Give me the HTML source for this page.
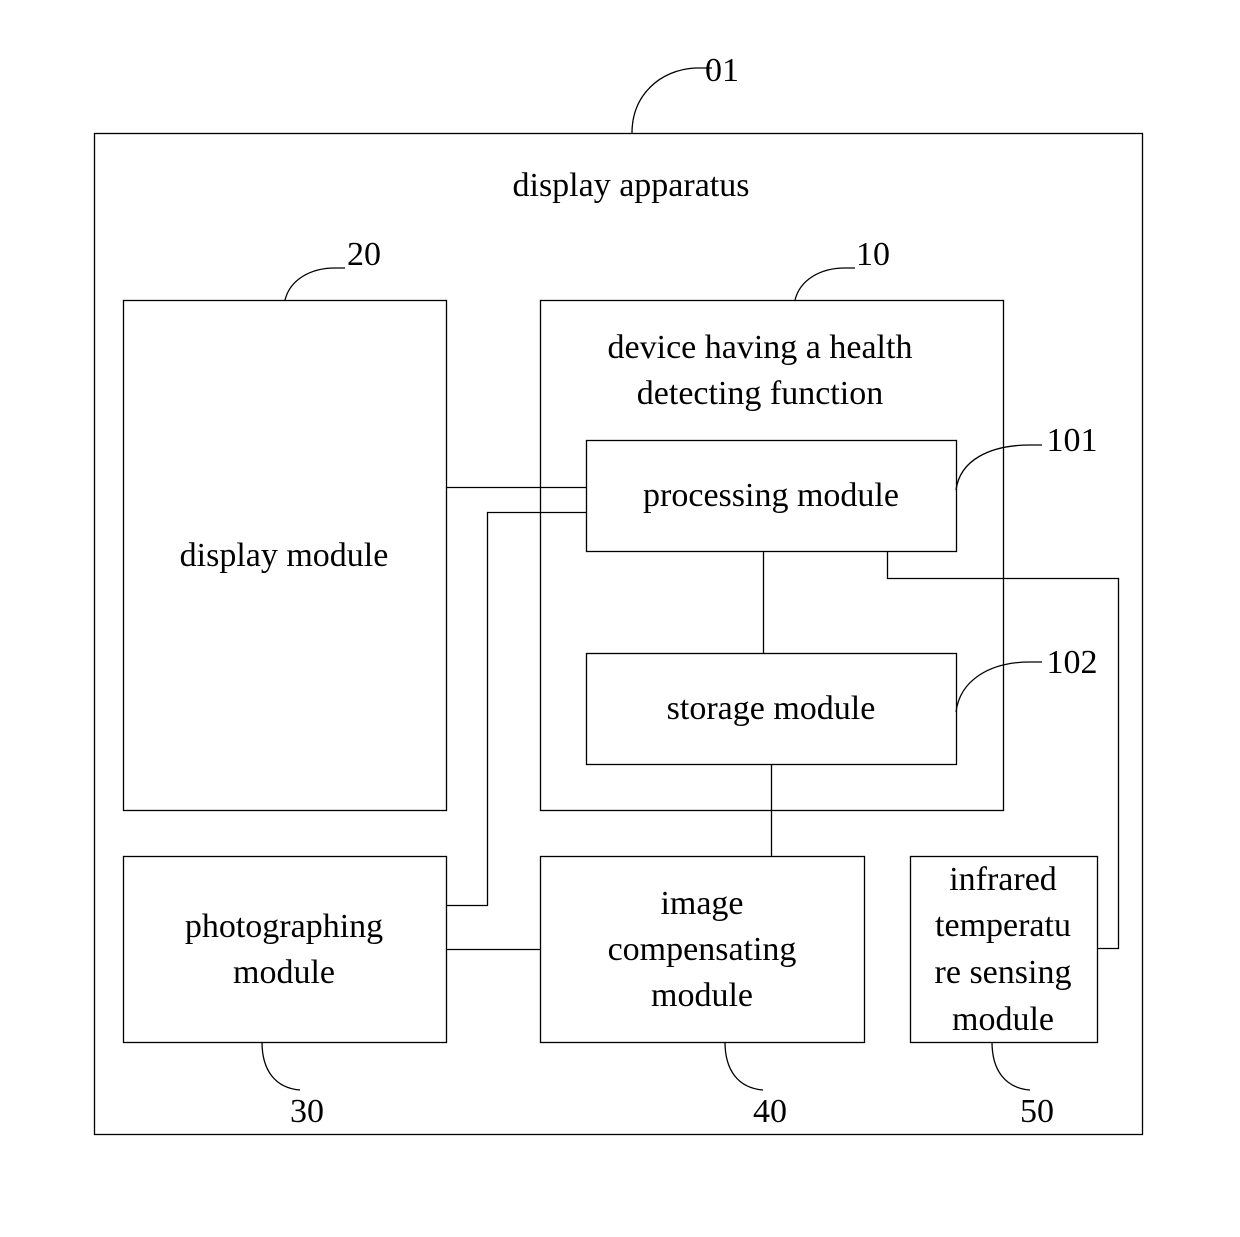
<!DOCTYPE html>
<html><head><meta charset="utf-8"><style>html,body{margin:0;padding:0;background:#fff}</style></head><body>
<svg width="1240" height="1232" viewBox="0 0 1240 1232" xmlns="http://www.w3.org/2000/svg" font-family="Liberation Serif, serif" font-size="34" fill="none" stroke="#000" stroke-width="1.3">
<rect x="94.5" y="133.5" width="1048" height="1001"/>
<rect x="123.5" y="300.5" width="323" height="510"/>
<rect x="540.5" y="300.5" width="463" height="510"/>
<rect x="586.5" y="440.5" width="370" height="111"/>
<rect x="586.5" y="653.5" width="370" height="111"/>
<rect x="123.5" y="856.5" width="323" height="186"/>
<rect x="540.5" y="856.5" width="324" height="186"/>
<rect x="910.5" y="856.5" width="187" height="186"/>
<path d="M446 487.5H586M446 905.5H487.5V512.5H586M763.5 551V653M887.5 551V578.5H1118.5V948.5H1097M771.5 764V856M446 949.5H540"/>
<path d="M632 133C632 95 660 70 695 68H712"/>
<path d="M285 300C290 280 310 268 335 268H345"/>
<path d="M795 300C800 280 820 268 845 268H855"/>
<path d="M956 490C960 460 990 445 1030 445H1042"/>
<path d="M956 712C960 680 990 662 1030 662H1042"/>
<path d="M262 1042C262 1070 275 1088 300 1090"/>
<path d="M725 1042C725 1070 738 1088 763 1090"/>
<path d="M992 1042C992 1070 1005 1088 1030 1090"/>
<g fill="#000" stroke="none" text-anchor="middle">
<text x="722" y="81">01</text>
<text x="631" y="196">display apparatus</text>
<text x="364" y="265">20</text>
<text x="873" y="265">10</text>
<text x="284" y="566">display module</text>
<text x="760" y="358">device having a health</text>
<text x="760" y="404">detecting function</text>
<text x="771" y="506">processing module</text>
<text x="1072" y="451">101</text>
<text x="771" y="719">storage module</text>
<text x="1072" y="673">102</text>
<text x="284" y="937">photographing</text>
<text x="284" y="983">module</text>
<text x="702" y="914">image</text>
<text x="702" y="960">compensating</text>
<text x="702" y="1006">module</text>
<text x="1003" y="890">infrared</text>
<text x="1003" y="936">temperatu</text>
<text x="1003" y="983">re sensing</text>
<text x="1003" y="1030">module</text>
<text x="307" y="1122">30</text>
<text x="770" y="1122">40</text>
<text x="1037" y="1122">50</text>
</g>
</svg>
</body></html>
